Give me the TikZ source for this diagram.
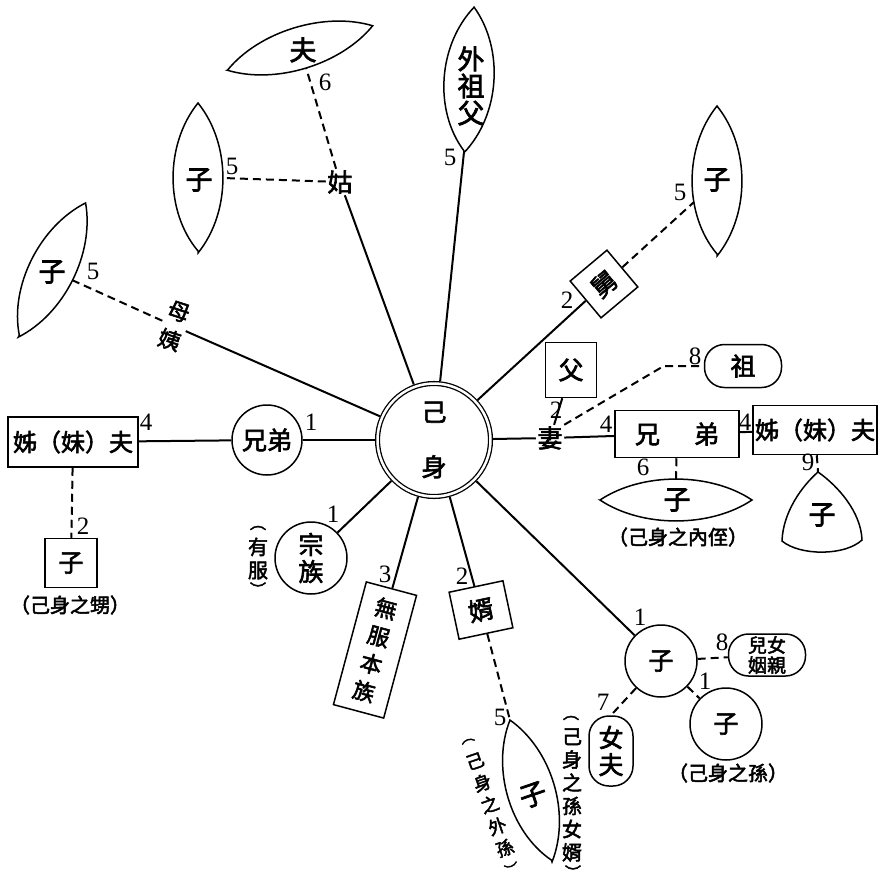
\documentclass[tikz,border=0pt]{standalone}
\usepackage{fontspec}
\usepackage{tikz}
\newfontfamily\cjk{Noto Sans CJK TC}[FakeBold=2.5]
\newfontfamily\numfont{Liberation Serif}

\tikzset{
  pics/lens/.style={code={
    \draw (-1,0) .. controls (-0.45,1.33) and (0.45,1.33) .. (1,0)
                 .. controls (0.45,-1.33) and (-0.45,-1.33) .. cycle;
    \coordinate (-e) at (1,0);
    \coordinate (-w) at (-1,0);
    \coordinate (-s) at (0,1);
    \coordinate (-n) at (0,-1);
  }}
}

\begin{document}
\begin{tikzpicture}[x=1pt, y=-1pt, line width=1.5pt,
  txt/.style={font=\cjk\fontsize{25}{27}\selectfont, inner sep=1pt, align=center},
  big/.style={txt, font=\cjk\fontsize{27}{27}\selectfont},
  capt/.style={font=\cjk\fontsize{20}{21}\selectfont, inner sep=0pt, align=center},
  vcapt/.style={font=\cjk\fontsize{20}{23.2}\selectfont, inner sep=0pt, align=center},
  paren/.style={font=\cjk\fontsize{16}{16}\selectfont, inner sep=0pt},
  num/.style={font=\numfont\fontsize{25}{25}\selectfont, inner sep=0pt},
  rbox/.style={txt, draw, rectangle, inner sep=0pt},
  rnd/.style={txt, draw, rectangle, rounded corners=20pt, inner sep=0pt},
  circ/.style={txt, draw, circle, inner sep=0pt, minimum size=72pt},
  link/.style={line width=2pt},
  dlink/.style={link, dash pattern=on 8pt off 5pt}]

\useasboundingbox (0,0) rectangle (878,881);

% Self
\node[txt, draw, circle, double, double distance=2.5pt, line width=1.3pt,
      minimum size=113pt, outer sep=2.6pt] (self) at (434,440) {己\\[28pt]身};

% Upper left: gu and muyi
\node[txt] (gu) at (340,182) {姑};
\pic[rotate=17, xscale=76, yscale=21] (lfu) at (300,48) {lens};
\node[big] (fu) at (303,50) {夫};
\pic[rotate=90, xscale=75, yscale=25] (lziB) at (198,178) {lens};
\node[big] (ziB) at (199,180) {子};
\node[txt, font=\cjk\fontsize{22}{30}\selectfont, rotate=-18] (muyi) at (174,326) {母\\姨};
\pic[rotate=63.4, xscale=75, yscale=23] (lziC) at (52,270) {lens};
\node[big] (ziC) at (52,272) {子};

% Top: waizufu
\pic[rotate=86, xscale=73, yscale=25] (lwzf) at (469,80) {lens};
\node[big] (wzf) at (471,86) {外\\祖\\父};

% Upper right: jiu
\node[rbox, rotate=40, minimum width=48pt, minimum height=48pt] (jiu) at (604,284) {舅};
\pic[rotate=90, xscale=75, yscale=25] (lziE) at (717,181) {lens};
\node[big] (ziE) at (717,180) {子};
\coordinate (ziE-in) at (694,202);

% Right: qi
\node[txt] (qi) at (550,438) {妻};
\node[rbox, minimum width=51pt, minimum height=55pt] (fuqin) at (571,370) {父};
\node[rnd, minimum width=77pt, minimum height=43pt] (zu) at (743,366) {祖};
\node[rbox, minimum width=124pt, minimum height=47pt] (xdbox) at (677,434) {兄\hspace{34pt}弟};
\node[rbox, font=\cjk\fontsize{24}{27}\selectfont, minimum width=124pt, minimum height=49pt] (zmfR) at (815,430) {姊（妹）夫};
\pic[rotate=0, xscale=76, yscale=21] (lziF) at (676,500) {lens};
\node[big] (ziF) at (677,500) {子};
\node[capt] (c-neizhi) at (678,537) {（己身之內侄）};
\coordinate (ziT-top) at (818,472);
\draw (ziT-top) .. controls (802,486) and (783,512) .. (782,541)
      .. controls (800,556) and (845,556) .. (862,540)
      .. controls (861,512) and (838,486) .. (ziT-top);
\node[big] (ziT) at (822,515) {子};

% Left: xiongdi
\node[circ, minimum size=70pt] (xd) at (267,440) {兄弟};
\node[rbox, font=\cjk\fontsize{24}{27}\selectfont, minimum width=130pt, minimum height=50pt] (zmfL) at (73,442) {姊（妹）夫};
\node[rbox, minimum width=52pt, minimum height=49pt] (zibox) at (71,563) {子};
\node[capt] (c-sheng) at (70,605) {（己身之甥）};

% Lower left: zongzu, wufu
\node[circ] (zz) at (311,558) {宗\\族};
\node[vcapt] (c-youfu) at (258,558.5) {有\\服};
\node[paren] (c-youfu-l) at (258,528) {︵};
\node[paren] (c-youfu-r) at (258,589) {︶};
\node[rbox, font=\cjk\fontsize{22}{28.5}\selectfont, rotate=-15, minimum width=52pt, minimum height=127pt] (wf) at (375,650) {無\\服\\本\\族};

% Lower: xu
\node[rbox, rotate=12, minimum width=55pt, minimum height=48pt] (xu) at (481,610) {婿};
\pic[rotate=106.5, xscale=74, yscale=24] (lziG) at (531,791) {lens};
\node[big, rotate=19] (ziG) at (533,795) {子};
\node[vcapt, font=\cjk\fontsize{18}{23}\selectfont, rotate=19] (c-waisun) at (490,805) {己\\身\\之\\外\\孫};
\node[paren, font=\cjk\fontsize{14}{14}\selectfont, rotate=19] (c-waisun-l) at (468,741) {︵};
\node[paren, font=\cjk\fontsize{14}{14}\selectfont, rotate=19] (c-waisun-r) at (512,869) {︶};

% Lower right: zi
\node[circ] (zi1) at (661,661) {子};
\node[rnd, minimum width=77pt, minimum height=42pt, font=\cjk\fontsize{19}{20}\selectfont] (ernv) at (767,655) {兒女\\姻親};
\node[circ] (zi2) at (726,724) {子};
\node[capt] (c-sun) at (728,773) {（己身之孫）};
\node[rnd, minimum width=44pt, minimum height=70pt] (nvfu) at (611,751) {女\\夫};
\node[vcapt] (c-sunxu) at (572,795) {己\\身\\之\\孫\\女\\婿};
\node[paren] (c-sunxu-l) at (571,718) {︵};
\node[paren] (c-sunxu-r) at (573,872) {︶};

% Links
\draw[link] (self) -- (gu);
\draw[dlink] (gu) -- (lfu-s);
\draw[dlink] (gu) -- (lziB-s);
\draw[link] (self) -- (muyi);
\draw[dlink] (muyi) -- (lziC-s);
\draw[link] (self) -- (lwzf-w);
\draw[link] (self) -- (jiu);
\draw[dlink] (jiu) -- (ziE-in);
\draw[link] (self) -- (qi);
\draw[link] (fuqin) -- (qi);
\draw[dlink] (qi.north east) -- ([xshift=-40pt]zu.west) -- (zu.west);
\draw[link] (qi) -- (xdbox);
\draw[link] (xdbox) -- (zmfR);
\draw[dlink] (xdbox) -- (lziF-n);
\draw[dlink] (zmfR) -- (ziT-top);
\draw[link] (self) -- (xd);
\draw[link] (xd) -- (zmfL);
\draw[dlink] (zmfL) -- (zibox);
\draw[link] (self) -- (zz);
\draw[link] (self) -- (wf);
\draw[link] (self) -- (xu);
\draw[dlink] (xu) -- (lziG-e);
\draw[link] (self) -- (zi1);
\draw[dlink] (zi1) -- (ernv);
\draw[dlink] (zi1) -- (zi2);
\draw[dlink] (zi1) -- (nvfu.north);

% Numbers
\node[num] (n-fu) at (325,82) {6};
\node[num] (n-ziB) at (232,166) {5};
\node[num] (n-ziC) at (93,271) {5};
\node[num] (n-wzf) at (450,157) {5};
\node[num] (n-jiu) at (567,300) {2};
\node[num] (n-ziE) at (680,192) {5};
\node[num] (n-zu) at (695,356) {8};
\node[num] (n-fuqin) at (556,410) {2};
\node[num] (n-xdbox) at (606,424) {4};
\node[num] (n-zmfR) at (745,422) {4};
\node[num] (n-ziF) at (643,467) {6};
\node[num] (n-ziT) at (808,462) {9};
\node[num] (n-xd) at (311,422) {1};
\node[num] (n-zmfL) at (146,422) {4};
\node[num] (n-zibox) at (83,526) {2};
\node[num] (n-zz) at (333,514) {1};
\node[num] (n-wf) at (385,574) {3};
\node[num] (n-xu) at (462,576) {2};
\node[num] (n-ziG) at (500,717) {5};
\node[num] (n-zi1) at (640,617) {1};
\node[num] (n-ernv) at (722,642) {8};
\node[num] (n-zi2) at (705,681) {1};
\node[num] (n-nvfu) at (603,702) {7};
\end{tikzpicture}
\end{document}
